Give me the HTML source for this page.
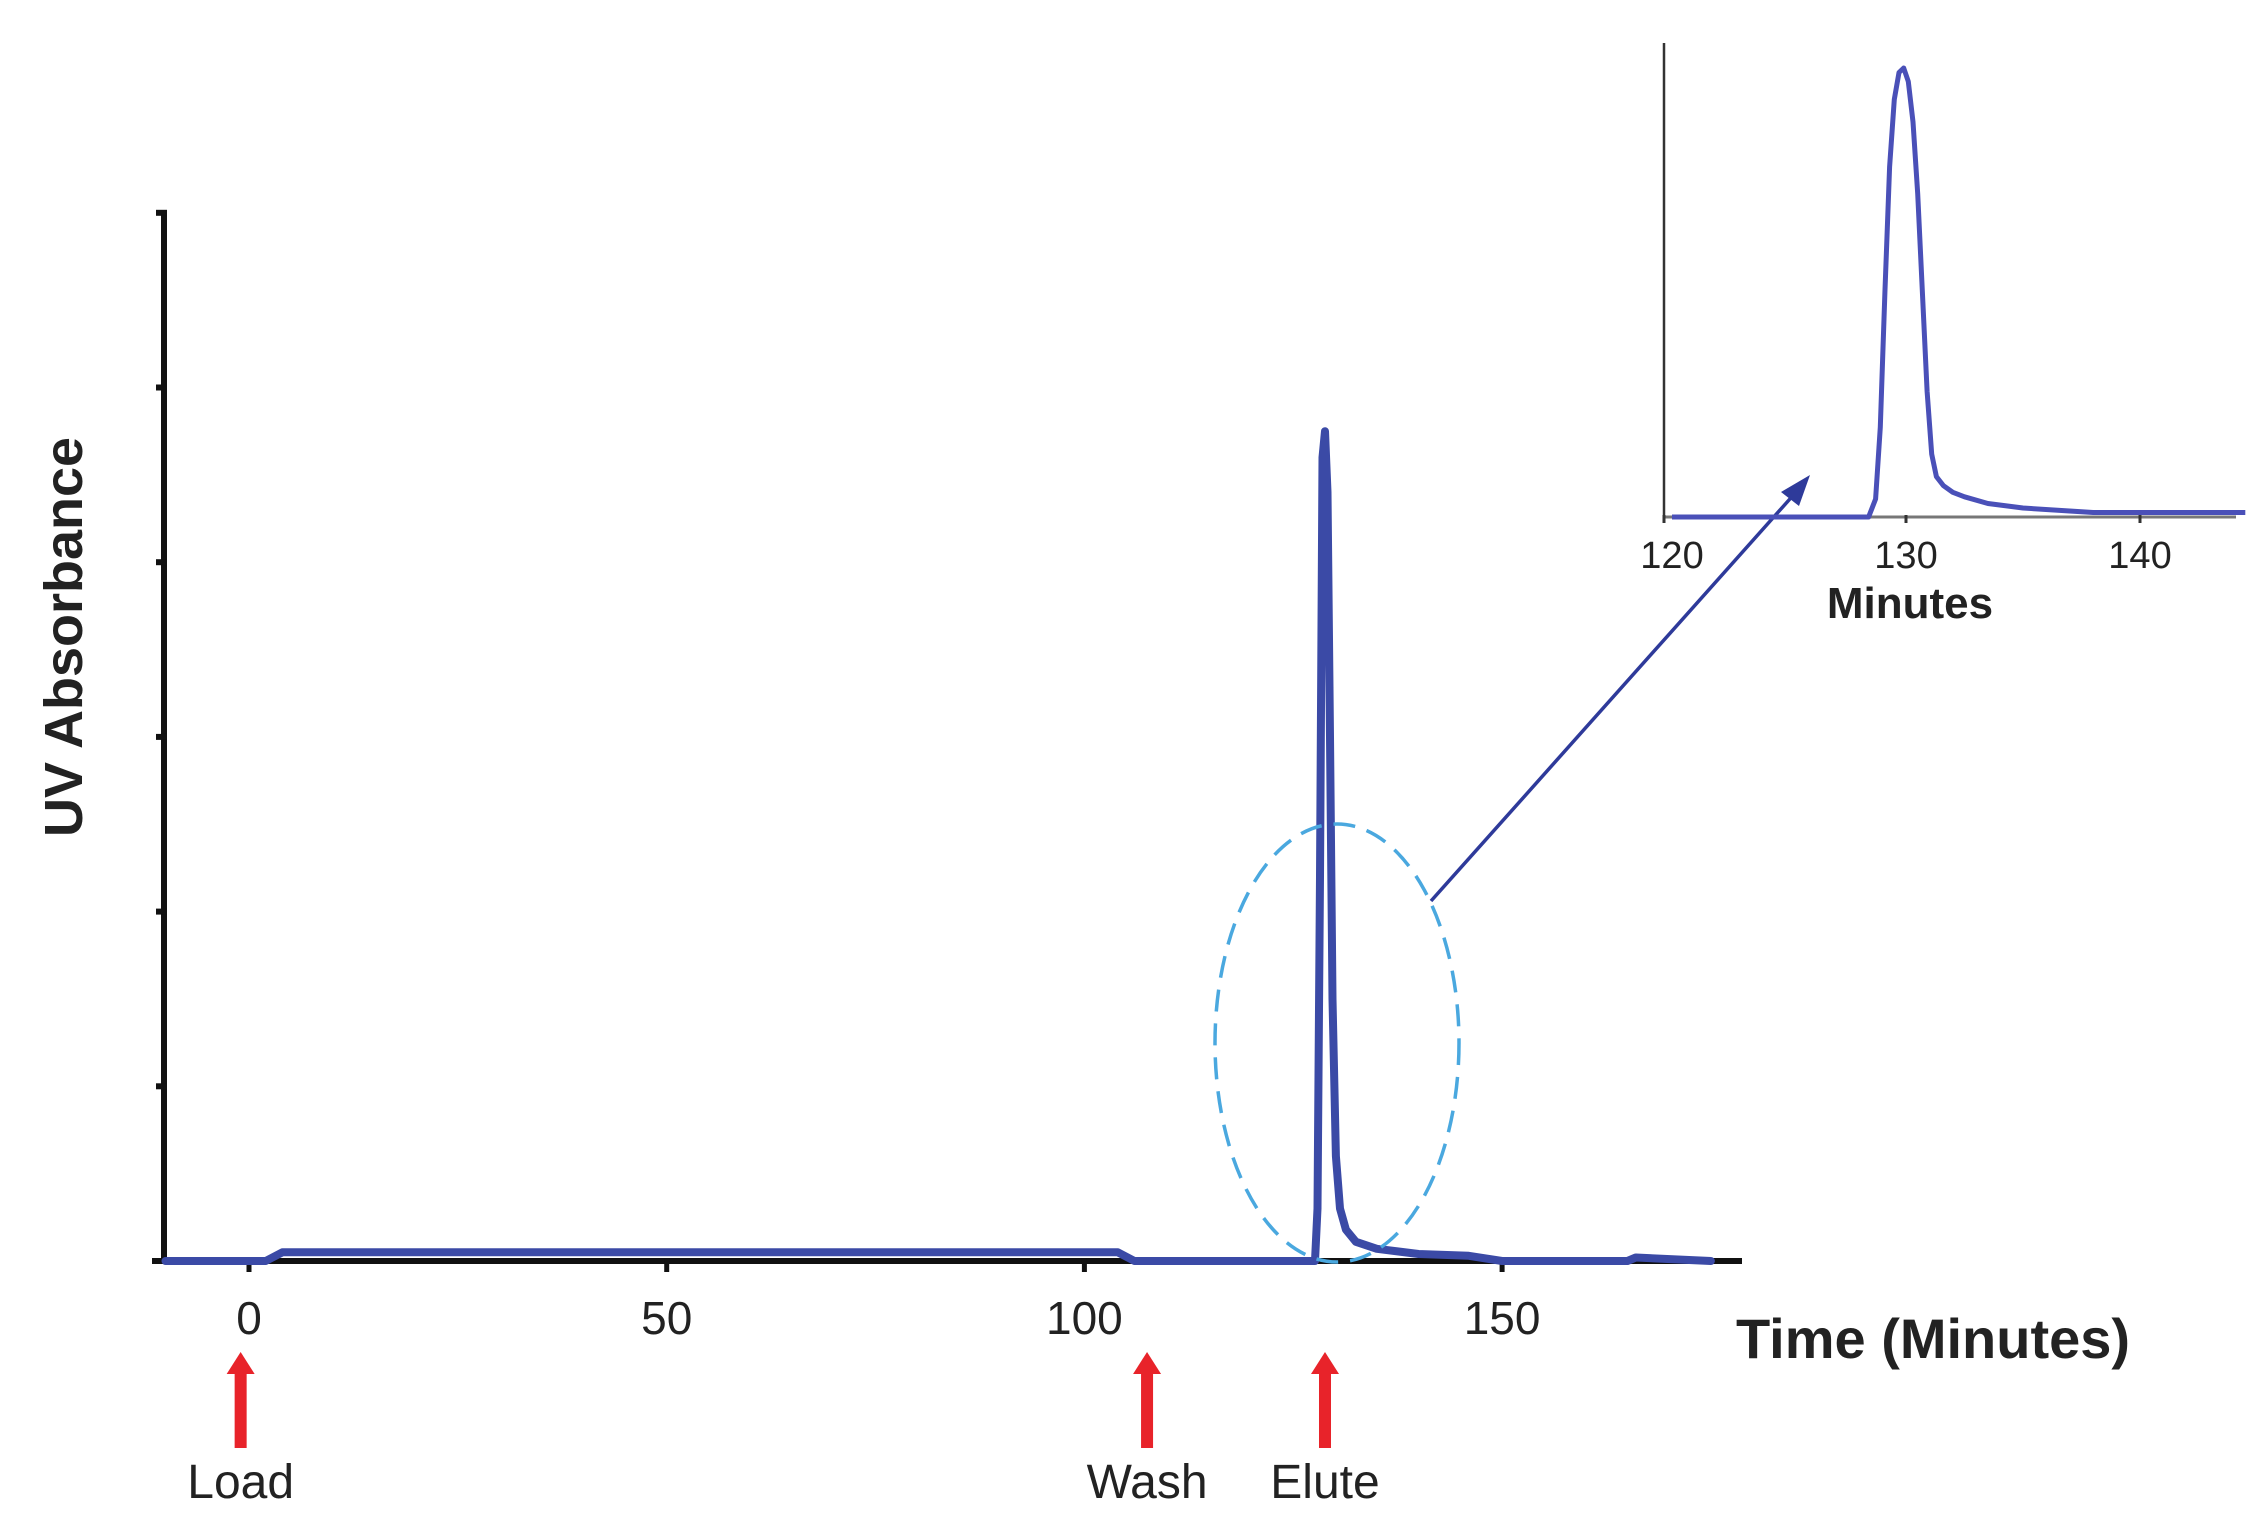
<!DOCTYPE html>
<html><head><meta charset="utf-8"><style>
html,body{margin:0;padding:0;background:#fff}
svg{display:block}
text{font-family:"Liberation Sans",sans-serif}
</style></head><body>
<svg id="chart" width="2250" height="1520" viewBox="0 0 2250 1520">
<g id="main"></g>
<g id="inset"></g>
</svg>
<script>
const mainTicks=[0,50,100,150];
const mainYTicks=[0,1,2,3,4,5,6];
const mainT=[-10,2,4,104,106,127.6,127.9,128.2,128.5,128.8,129.1,129.4,129.7,130.1,130.6,131.3,132.5,135,140,146,150,165,166,175];
const mainV=[0,0,0.05,0.05,0,0,0.3,2.2,4.6,4.75,4.4,3.0,1.5,0.6,0.3,0.18,0.11,0.07,0.04,0.03,0,0,0.02,0];
const insetTicks=[120,130,140];
const insetT=[120,128.4,128.7,128.9,129.1,129.3,129.5,129.7,129.9,130.1,130.3,130.5,130.7,130.9,131.1,131.3,131.6,132,132.5,133.5,135,138,144.5];
const insetV=[0,0,0.04,0.2,0.5,0.78,0.93,0.99,1,0.97,0.88,0.72,0.5,0.28,0.14,0.09,0.07,0.055,0.045,0.03,0.02,0.01,0.01];
const markers=[{t:-1,label:"Load"},{t:107.5,label:"Wash"},{t:128.8,label:"Elute"}];

const NS="http://www.w3.org/2000/svg";
function mk(tag,attrs,parent){const e=document.createElementNS(NS,tag);for(const k in attrs)e.setAttribute(k,attrs[k]);parent.appendChild(e);return e;}
const mx=t=>249+t*8.354;
const my=v=>1261-v*174.7;
const ix=t=>1672+(t-120)*23.4;
const iy=v=>517-v*449;
const main=document.getElementById('main');
const inset=document.getElementById('inset');

let e=mk('line',{x1:164,y1:213,x2:164,y2:1263,stroke:'#111','stroke-width':6},main);


e=mk('line',{x1:152,y1:1261,x2:1742,y2:1261,stroke:'#111','stroke-width':6},main);


mainYTicks.forEach(v=>{
  const t=mk('line',{x1:156,y1:my(v),x2:167,y2:my(v),stroke:'#111','stroke-width':6},main);
  
  
});
mainTicks.forEach(v=>{
  const t=mk('line',{x1:mx(v),y1:1258,x2:mx(v),y2:1272,stroke:'#111','stroke-width':5},main);
  
  
  const l=mk('text',{x:mx(v),y:1334,'text-anchor':'middle','font-size':46,fill:'#222'},main);
  l.textContent=v;
  
  
});
e=mk('text',{x:0,y:0,transform:'translate(82,637) rotate(-90)','text-anchor':'middle','font-size':54,'font-weight':'bold',fill:'#222'},main);
e.textContent='UV Absorbance';


e=mk('text',{x:1933,y:1358,'text-anchor':'middle','font-size':56,'font-weight':'bold',fill:'#222'},main);
e.textContent='Time (Minutes)';



e=mk('path',{d:mainT.map((t,i)=>(i?'L':'M')+mx(t).toFixed(1)+','+my(mainV[i]).toFixed(1)).join(''),fill:'none',stroke:'#3b4aa6','stroke-width':8,'stroke-linejoin':'round','stroke-linecap':'round'},main);



e=mk('ellipse',{cx:1337,cy:1043,rx:122,ry:219,fill:'none',stroke:'#4aa8df','stroke-width':3.5,'stroke-dasharray':'22 12'},main);


e=mk('line',{x1:1431,y1:901,x2:1797,y2:491,stroke:'#2e3a9a','stroke-width':3.5},main);


e=mk('polygon',{points:'1810,475 1781,492 1799,506',fill:'#2e3a9a'},main);



markers.forEach(m=>{
  const x=mx(m.t);
  const g=mk('g',{},main);
  
  
  mk('rect',{x:x-6,y:1372,width:12,height:76,fill:'#e8232a'},g);
  mk('polygon',{points:`${x-14},1374 ${x+14},1374 ${x},1352`,fill:'#e8232a'},g);
  const l=mk('text',{x:x,y:1498,'text-anchor':'middle','font-size':48,fill:'#222'},g);
  l.textContent=m.label;
});

e=mk('line',{x1:1664,y1:43,x2:1664,y2:519,stroke:'#333','stroke-width':2.5},inset);


e=mk('line',{x1:1664,y1:517,x2:2236,y2:517,stroke:'#777','stroke-width':3},inset);


insetTicks.forEach(v=>{
  const x=ix(v);
  const t=mk('line',{x1:v===120?1664:x,y1:515,x2:v===120?1664:x,y2:523,stroke:'#333','stroke-width':3},inset);
  
  
  const l=mk('text',{x:x,y:568,'text-anchor':'middle','font-size':38,fill:'#222'},inset);
  l.textContent=v;
  
  
});
e=mk('text',{x:1910,y:618,'text-anchor':'middle','font-size':44,'font-weight':'bold',fill:'#222'},inset);
e.textContent='Minutes';


e=mk('path',{d:insetT.map((t,i)=>(i?'L':'M')+ix(t).toFixed(1)+','+iy(insetV[i]).toFixed(1)).join(''),fill:'none',stroke:'#4a50b8','stroke-width':5,'stroke-linejoin':'round'},inset);


</script>
</body></html>
